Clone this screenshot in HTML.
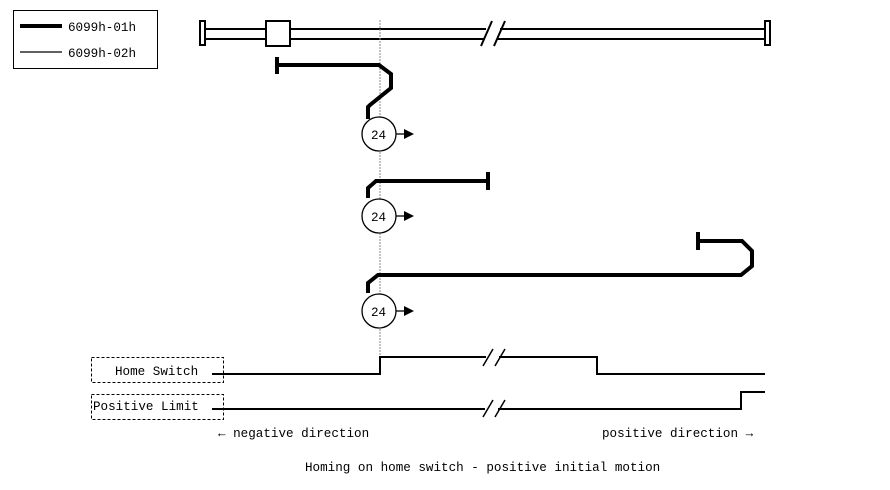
<!DOCTYPE html>
<html><head><meta charset="utf-8"><style>
html,body{margin:0;padding:0;background:#fff;}
svg{display:block;}
text{font-family:"Liberation Mono","Noto Serif CJK SC",monospace;font-size:12.6px;fill:#000;}
</style></head><body>
<svg width="890" height="490" viewBox="0 0 890 490" xmlns="http://www.w3.org/2000/svg">
<rect x="13.5" y="10.5" width="144" height="58" fill="none" stroke="#000" stroke-width="1"/>
<line x1="20" y1="26" x2="62" y2="26" stroke="#000" stroke-width="4"/>
<line x1="20" y1="52" x2="62" y2="52" stroke="#000" stroke-width="1.2"/>
<text x="68" y="31">6099h-01h</text>
<text x="68" y="57">6099h-02h</text>

<g stroke="#000" stroke-width="2" fill="none">
<line x1="205" y1="29" x2="486" y2="29"/>
<line x1="205" y1="39" x2="484" y2="39"/>
<line x1="500" y1="29" x2="765" y2="29"/>
<line x1="497" y1="39" x2="765" y2="39"/>
<line x1="492" y1="21" x2="481" y2="46"/>
<line x1="505" y1="21" x2="494" y2="46"/>
<rect x="200" y="21" width="5" height="24" fill="#fff"/>
<rect x="765" y="21" width="5" height="24" fill="#fff"/>
<rect x="266" y="21" width="24" height="25" fill="#fff"/>
</g>

<line x1="380" y1="20" x2="380" y2="375" stroke="#888" stroke-width="1" stroke-dasharray="2,1"/>

<g stroke="#000" stroke-width="4" fill="none" stroke-linejoin="miter">
<line x1="277" y1="57" x2="277" y2="74"/>
<polyline points="277,65 379,65 391,74 391,88 370,105 368,107 368,119"/>
<polyline points="368,198 368,188 376,181 488,181"/>
<line x1="488" y1="172" x2="488" y2="190"/>
<polyline points="368,293 368,283 378,275 741,275 752,266 752,251 742,241 698,241"/>
<line x1="698" y1="232" x2="698" y2="250"/>
</g>

<g stroke="#000" stroke-width="1.3" fill="#fff">
<circle cx="379" cy="134" r="17"/>
<circle cx="379" cy="216" r="17"/>
<circle cx="379" cy="311" r="17"/>
</g>
<text x="371" y="139">24</text>
<text x="371" y="221">24</text>
<text x="371" y="316">24</text>
<g stroke="#000" stroke-width="1.3">
<line x1="396" y1="134" x2="406" y2="134"/>
<line x1="396" y1="216" x2="406" y2="216"/>
<line x1="396" y1="311" x2="406" y2="311"/>
</g>
<polygon points="404,129 414,134 404,139" fill="#000"/>
<polygon points="404,211 414,216 404,221" fill="#000"/>
<polygon points="404,306 414,311 404,316" fill="#000"/>

<g stroke="#000" stroke-width="1" fill="none" stroke-dasharray="3,2">
<rect x="91.5" y="357.5" width="132" height="25"/>
<rect x="91.5" y="394.5" width="132" height="25"/>
</g>
<text x="115" y="375">Home Switch</text>
<text x="93" y="410">Positive Limit</text>

<g stroke="#000" stroke-width="2" fill="none">
<polyline points="212,374 380,374 380,357 486,357"/>
<polyline points="499,357 597,357 597,374 765,374"/>
<line x1="212" y1="409" x2="485" y2="409"/>
<polyline points="498,409 741,409 741,392 765,392"/>
</g>
<g stroke="#000" stroke-width="1.5">
<line x1="493" y1="349" x2="483" y2="366"/>
<line x1="505" y1="349" x2="495" y2="366"/>
<line x1="493" y1="400" x2="483" y2="417"/>
<line x1="505" y1="400" x2="495" y2="417"/>
</g>

<text x="218" y="437">← negative direction</text>
<text x="602" y="437">positive direction →</text>
<text x="305" y="471">Homing on home switch - positive initial motion</text>
</svg>
</body></html>
